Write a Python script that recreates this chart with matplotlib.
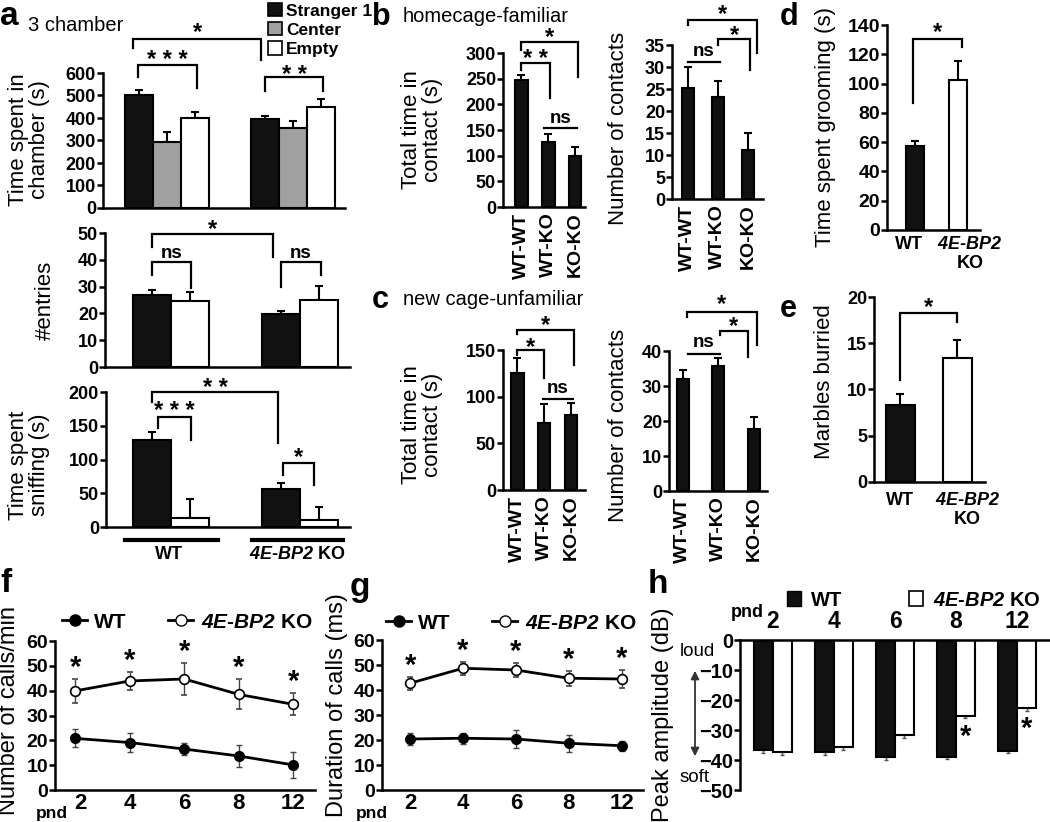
import numpy as np
import matplotlib
matplotlib.use("Agg")
import matplotlib.pyplot as plt
from matplotlib.patches import Patch
from matplotlib.lines import Line2D
from matplotlib.transforms import offset_copy, ScaledTranslation

plt.rcParams['font.family'] = ['Liberation Sans', 'DejaVu Sans']
plt.rcParams['font.weight'] = 'bold'
# mathtext is used only for the italic gene name (digits included)
plt.rcParams['mathtext.fontset'] = 'custom'
plt.rcParams['mathtext.it'] = 'Liberation Sans:italic:bold'
plt.rcParams['mathtext.rm'] = 'Liberation Sans:italic:bold'
plt.rcParams['mathtext.bf'] = 'Liberation Sans:italic:bold'

KO = r'$4E$-$BP2$'
DARK = '#111111'

# ---- a: 3 chamber test ----
chamber_cats = ['Stranger 1', 'Center', 'Empty']
chamber_colors = [DARK, '#a0a0a0', 'white']
chamber_wt = [504, 295, 401]
chamber_wt_err = [22, 44, 24]
chamber_ko = [397, 354, 450]
chamber_ko_err = [11, 34, 35]
# stranger, empty
entries_wt = [26.7, 24.5]
entries_wt_err = [2.1, 3.5]
entries_ko = [19.7, 25.1]
entries_ko_err = [1.3, 5.1]
sniff_wt = [129, 13.4]
sniff_wt_err = [12.4, 28]
sniff_ko = [55.6, 10]
sniff_ko_err = [9, 20]

# ---- b, c: social interaction ----
pairs = ['WT-WT', 'WT-KO', 'KO-KO']
home_time = [246.8, 126.6, 99.4]
home_time_err = [11, 15.6, 16.9]
home_contacts = [25.2, 23.1, 11.1]
home_contacts_err = [4.9, 3.8, 4.0]
new_time = [125, 72.1, 80.4]
new_time_err = [16, 20, 12.5]
new_contacts = [32.0, 35.7, 17.7]
new_contacts_err = [2.5, 2.2, 3.5]

# ---- d, e ----
grooming = [57.6, 102.5]
grooming_err = [3.2, 13]
marbles = [8.3, 13.4]
marbles_err = [1.25, 1.9]

# ---- f, g, h: ultrasonic vocalisations ----
pnd = ['2', '4', '6', '8', '12']
calls_wt = [20.8, 19.1, 16.5, 13.7, 10.1]
calls_wt_err = [3.6, 3.7, 2.6, 4.4, 5.1]
calls_ko = [39.9, 43.9, 44.7, 38.5, 34.5]
calls_ko_err = [4.8, 3.7, 6.3, 6.0, 4.4]
dur_wt = [20.4, 20.7, 20.4, 18.7, 17.7]
dur_wt_err = [2.3, 2.3, 3.6, 3.3, 2.0]
dur_ko = [42.7, 48.7, 48.0, 44.7, 44.4]
dur_ko_err = [2.6, 2.6, 2.9, 3.0, 3.6]
amp_wt = [-36.7, -37.4, -39.1, -38.9, -36.9]
amp_wt_err = [0.8, 1.0, 1.0, 0.9, 0.8]
amp_ko = [-37.4, -35.5, -31.8, -25.2, -22.5]
amp_ko_err = [0.9, 1.0, 0.8, 0.8, 1.0]
amp_sig = [False, False, False, True, True]

W, H = 1050, 822
fig = plt.figure(figsize=(W / 100, H / 100), dpi=100)
ov = fig.add_axes([0, 0, 1, 1], zorder=5)
ov.set_xlim(0, W)
ov.set_ylim(H, 0)
ov.axis('off')


def px_axes(left, right, top, bottom):
    return fig.add_axes([left / W, 1 - bottom / H, (right - left) / W, (bottom - top) / H])


def style(ax, size=13):
    for s in ['top', 'right']:
        ax.spines[s].set_visible(False)
    for s in ['left', 'bottom']:
        ax.spines[s].set_linewidth(1.8)
    ax.tick_params(axis='y', length=4, width=1.8, labelsize=size, pad=1)
    ax.tick_params(axis='x', length=0, labelsize=size)


def bars(ax, x, vals, errs, colors, width):
    ax.bar(x, vals, width, color=colors, edgecolor='k', linewidth=1.5, zorder=2)
    z = np.zeros(len(vals))
    ax.errorbar(x, vals, yerr=[z, errs], fmt='none', ecolor='k', elinewidth=1.5,
                capsize=3, capthick=1.5, zorder=1)


def star(ax, x, y, label='*', size=17):
    # the asterisk glyph sits high in its box, pull it down a little
    ax.text(x, y, label, ha='center', va='center', fontsize=size,
            transform=offset_copy(ax.transData, fig=fig, y=-5, units='dots'))


def bracket(ax, x1, x2, top, leg1, leg2, label, ty):
    ax.plot([x1, x1, x2, x2], [leg1, top, top, leg2], color='k', lw=1.6,
            clip_on=False, solid_joinstyle='miter')
    if label == 'ns':
        ax.text((x1 + x2) / 2, ty, label, ha='center', va='center', fontsize=13.5)
    else:
        star(ax, (x1 + x2) / 2, ty, label)


def ylab(x, y, text, size=16):
    ov.text(x, y, text, rotation=90, ha='center', va='center', fontsize=size,
            fontweight='normal', linespacing=1.05)


def nudge(label, dx):
    label.set_transform(label.get_transform() + ScaledTranslation(dx / 100, 0, fig.dpi_scale_trans))


# ---------------- a ----------------
ax = px_axes(103, 345, 73, 208)
style(ax)
xw = np.arange(3)
xk = np.arange(3) + 4.5
bars(ax, xw, chamber_wt, chamber_wt_err, chamber_colors, 1.0)
bars(ax, xk, chamber_ko, chamber_ko_err, chamber_colors, 1.0)
ax.set_xlim(-1.29, 7.36)
ax.set_ylim(0, 600)
ax.set_yticks(range(0, 601, 100))
ax.set_xticks([])
bracket(ax, -0.21, 4.36, 750, 710, 657, '*', 804)
bracket(ax, -0.04, 2.07, 635, 582, 533, '* * *', 680)
bracket(ax, 4.5, 6.57, 582, 520, 520, '* *', 613)

xs_w = np.array([0, 1])
xs_k = np.array([3.4, 4.4])
two_colors = [DARK, 'white']

ax = px_axes(105, 350, 233, 367)
style(ax)
bars(ax, xs_w, entries_wt, entries_wt_err, two_colors, 1.0)
bars(ax, xs_k, entries_ko, entries_ko_err, two_colors, 1.0)
ax.set_xlim(-1.24, 5.21)
ax.set_ylim(0, 50)
ax.set_yticks(range(0, 51, 10))
ax.set_xticks([])
bracket(ax, 0, 3.18, 49.6, 44.8, 41, '*', 53)
bracket(ax, 0, 1.03, 39.2, 34.3, 29.5, 'ns', 42.5)
bracket(ax, 3.39, 4.45, 39.2, 30, 34.3, 'ns', 42.5)

ax = px_axes(106, 350, 392, 527)
style(ax)
bars(ax, xs_w, sniff_wt, sniff_wt_err, two_colors, 1.0)
bars(ax, xs_k, sniff_ko, sniff_ko_err, two_colors, 1.0)
ax.set_xlim(-1.21, 5.21)
ax.set_ylim(0, 200)
ax.set_yticks(range(0, 201, 50))
ax.set_xticks([])
bracket(ax, 0, 3.32, 200, 185, 124, '* *', 213)
bracket(ax, 0.16, 1.03, 163, 147, 129, '* * *', 178)
bracket(ax, 3.45, 4.27, 95, 77, 62, '*', 111)
ax.plot([-0.71, 1.74], [-19, -19], color='k', lw=3, clip_on=False)
ax.plot([2.63, 5.03], [-19, -19], color='k', lw=3, clip_on=False)
ax.text(0.45, -41, 'WT', ha='center', va='center', fontsize=13)
ax.text(3.82, -41, KO + ' KO', ha='center', va='center', fontsize=13)

ov.legend([Patch(facecolor=c, edgecolor='k', linewidth=1.2) for c in chamber_colors],
          chamber_cats, loc='upper left', bbox_to_anchor=(268, 3),
          bbox_transform=ov.transData, frameon=False, fontsize=12.5,
          handlelength=0.8, handleheight=0.8, handletextpad=0.25,
          labelspacing=0.2, borderpad=0, borderaxespad=0)

ylab(29, 140, 'Time spent in\nchamber (s)')
ylab(45, 300, '#entries')
ylab(29, 465, 'Time spent\nsniffing (s)')

# ---------------- b, c ----------------
x3 = np.arange(3)


def pair_axes(left, right, top, bottom, vals, errs, width, xlim, ylim, step):
    a = px_axes(left, right, top, bottom)
    style(a)
    bars(a, x3, vals, errs, DARK, width)
    a.set_xlim(*xlim)
    a.set_ylim(0, ylim)
    a.set_yticks(np.arange(0, ylim + 0.1, step))
    a.set_xticks(x3)
    a.set_xticklabels(pairs, rotation=90, fontsize=14)
    a.tick_params(axis='x', pad=4)
    return a


ax = pair_axes(503, 585, 53, 207, home_time, home_time_err, 0.48, (-0.67, 2.37), 300, 50)
bracket(ax, 0, 1.07, 281, 267, 212, '* *', 297)
bracket(ax, 0, 2.1, 322, 306, 253, '*', 339)
bracket(ax, 0.85, 2.07, 154, 154, 154, 'ns', 173)

ax = pair_axes(672, 763, 45, 199, home_contacts, home_contacts_err, 0.4, (-0.53, 2.5), 35, 5)
bracket(ax, 0, 1.07, 31.1, 31.1, 31.1, 'ns', 33.5)
bracket(ax, 1.0, 2.07, 36.4, 35, 29.3, '*', 38.2)
bracket(ax, 0, 2.3, 40.6, 39.5, 33.2, '*', 43)

ax = pair_axes(503, 585, 350, 490, new_time, new_time_err, 0.48, (-0.52, 2.52), 150, 50)
bracket(ax, 0, 1.0, 150, 145, 120, '*', 158)
bracket(ax, 0, 2.1, 171, 167, 134, '*', 182)
bracket(ax, 0.96, 2.07, 98, 98, 98, 'ns', 109)

ax = pair_axes(669, 767, 351, 491, new_contacts, new_contacts_err, 0.34, (-0.39, 2.37), 40, 10)
bracket(ax, 0.14, 1.04, 39.1, 39.1, 39.1, 'ns', 42.3)
bracket(ax, 1.04, 1.83, 45.7, 44.6, 38.3, '*', 48.3)
bracket(ax, 0.11, 2.08, 51.1, 49.7, 41.7, '*', 54.6)

ylab(422, 130, 'Total time in\ncontact (s)')
ylab(618, 128, 'Number of contacts')
ylab(422, 425, 'Total time in\ncontact (s)')
ylab(619, 425, 'Number of contacts')

# ---------------- d, e ----------------
x2 = np.arange(2)
geno_labels = ['WT', KO + '\nKO']

ax = px_axes(887, 980, 25, 230)
style(ax, size=14)
bars(ax, x2, grooming, grooming_err, two_colors, 0.42)
ax.set_xlim(-0.65, 1.51)
ax.set_ylim(0, 140)
ax.set_yticks(range(0, 141, 20))
ax.set_xticks(x2)
ax.set_xticklabels(geno_labels, fontsize=13)
ax.tick_params(axis='x', pad=4)
nudge(ax.get_xticklabels()[0], -6)
nudge(ax.get_xticklabels()[1], 12)
bracket(ax, -0.05, 1.09, 130.5, 86.7, 125, '*', 138)

ax = px_axes(874, 985, 297, 482)
style(ax)
bars(ax, x2, marbles, marbles_err, two_colors, 0.51)
ax.set_xlim(-0.46, 1.49)
ax.set_ylim(0, 20)
ax.set_yticks(range(0, 21, 5))
ax.set_xticks(x2)
ax.set_xticklabels(geno_labels, fontsize=13)
ax.tick_params(axis='x', pad=7)
nudge(ax.get_xticklabels()[1], 10)
bracket(ax, 0, 1.0, 18.3, 11.0, 17.3, '*', 19.4)

ylab(825, 127, 'Time spent grooming (s)')
ylab(825, 382, 'Marbles burried')

# ---------------- f, g ----------------
xp = np.arange(len(pnd))


def line_axes(left, right, top, bottom, xlim, wt, wt_err, ko, ko_err):
    a = px_axes(left, right, top, bottom)
    style(a, size=14)
    a.errorbar(xp, wt, yerr=wt_err, fmt='-o', color='k', mfc='k', mec='k', ms=7, lw=2,
               ecolor='#444444', elinewidth=1, capsize=2.5, capthick=1)
    a.errorbar(xp, ko, yerr=ko_err, fmt='-o', color='k', mfc='white', mec='k', ms=7,
               mew=1.2, lw=2, ecolor='#444444', elinewidth=1, capsize=2.5, capthick=1)
    for i in xp:
        star(a, i, ko[i] + ko_err[i] + 6.5, size=21)
    a.set_xlim(*xlim)
    a.set_ylim(0, 60)
    a.set_yticks(range(0, 61, 10))
    a.set_xticks(xp)
    a.set_xticklabels(pnd, fontsize=16)
    a.tick_params(axis='x', pad=2)
    return a


h_wt = Line2D([], [], color='k', marker='o', mfc='k', mec='k', ms=8, lw=2)
h_ko = Line2D([], [], color='k', marker='o', mfc='white', mec='k', ms=8, lw=2)

ax = line_axes(55, 315, 641, 790, (-0.37, 4.4), calls_wt, calls_wt_err, calls_ko, calls_ko_err)
nudge(ax.get_xticklabels()[0], 5)
ax.legend([h_wt, h_ko], ['WT', KO + ' KO'], loc='center left', bbox_to_anchor=(62, 622),
          bbox_transform=ov.transData, ncol=2, frameon=False, fontsize=15,
          handlelength=1.2, handletextpad=0.35, columnspacing=2.0, borderpad=0, borderaxespad=0)

ax = line_axes(382, 643, 640, 790, (-0.53, 4.4), dur_wt, dur_wt_err, dur_ko, dur_ko_err)
ax.legend([h_wt, h_ko], ['WT', KO + ' KO'], loc='center left', bbox_to_anchor=(386, 623),
          bbox_transform=ov.transData, ncol=2, frameon=False, fontsize=15,
          handlelength=1.2, handletextpad=0.35, columnspacing=2.0, borderpad=0, borderaxespad=0)

ov.text(52, 813, 'pnd', ha='center', va='center', fontsize=12.5)
ov.text(372, 813, 'pnd', ha='center', va='center', fontsize=12.5)
ylab(9, 710, 'Number of calls/min', size=17)
ylab(337, 705, 'Duration of calls (ms)', size=17)

# ---------------- h ----------------
ax = px_axes(740, 1050, 640, 790)
bw = 0.31
ax.bar(xp - bw / 2, amp_wt, bw, color=DARK, edgecolor='k', linewidth=1.5, zorder=2)
ax.bar(xp + bw / 2, amp_ko, bw, color='white', edgecolor='k', linewidth=1.5, zorder=2)
zz = np.zeros(len(pnd))
ax.errorbar(xp - bw / 2, amp_wt, yerr=[amp_wt_err, zz], fmt='none', ecolor='#555555',
            elinewidth=1, capsize=1.5, capthick=1, zorder=1)
ax.errorbar(xp + bw / 2, amp_ko, yerr=[amp_ko_err, zz], fmt='none', ecolor='#555555',
            elinewidth=1, capsize=1.5, capthick=1, zorder=1)
for i in xp:
    if amp_sig[i]:
        star(ax, i + bw / 2, amp_ko[i] - amp_ko_err[i] - 4.5, size=21)
for s in ['bottom', 'right']:
    ax.spines[s].set_visible(False)
for s in ['left', 'top']:
    ax.spines[s].set_linewidth(1.8)
ax.xaxis.tick_top()
ax.set_xticks(xp)
ax.set_xticklabels(pnd, fontsize=16.5)
ax.tick_params(axis='x', length=0, pad=5)
ax.tick_params(axis='y', length=4, width=1.8, labelsize=14.5, pad=1)
ax.set_xlim(-0.54, 4.54)
ax.set_ylim(-50, 0)
ax.set_yticks(range(-50, 1, 10))
ax.legend([Patch(facecolor=DARK, edgecolor='k'), Patch(facecolor='white', edgecolor='k', linewidth=1.2)],
          ['WT', KO + ' KO'], loc='center left', bbox_to_anchor=(787, 600),
          bbox_transform=ov.transData, ncol=2, frameon=False, fontsize=14.5,
          handlelength=0.7, handleheight=0.7, handletextpad=0.5, columnspacing=3.3,
          borderpad=0, borderaxespad=0)
ov.text(747, 612, 'pnd', ha='center', va='center', fontsize=13)
ov.text(697, 651, 'loud', ha='center', va='center', fontsize=13.5, fontweight='normal')
ov.text(695, 777, 'soft', ha='center', va='center', fontsize=13.5, fontweight='normal')
ov.annotate('', xy=(695, 668), xytext=(695, 759),
            arrowprops=dict(arrowstyle='<|-|>', lw=1.3, color='#333333', mutation_scale=12))
ylab(663, 715, 'Peak amplitude (dB)', size=17)

# ---------------- panel letters and titles ----------------
for letter, x, y, size in [('a', 0, 25, 24), ('b', 372, 25, 22), ('c', 372, 308, 22),
                           ('d', 780, 25, 22), ('e', 780, 317, 22), ('f', 0, 592, 24),
                           ('g', 350, 596, 24), ('h', 648, 593, 24)]:
    ov.text(x, y, letter, ha='left', va='baseline', fontsize=size)
ov.text(28, 31, '3 chamber', ha='left', va='baseline', fontsize=14.5, fontweight='normal')
ov.text(403, 22, 'homecage-familiar', ha='left', va='baseline', fontsize=14.5, fontweight='normal')
ov.text(403, 305, 'new cage-unfamiliar', ha='left', va='baseline', fontsize=14.5, fontweight='normal')

fig.savefig('out.png', dpi=100)
